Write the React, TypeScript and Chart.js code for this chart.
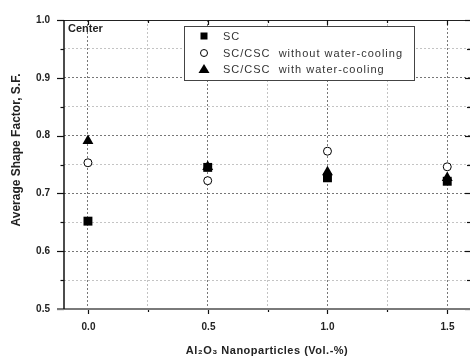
import React, { useEffect, useRef } from 'react';
import { Chart, registerables } from 'chart.js';
Chart.register(...registerables);

const xValues = [0.0, 0.5, 1.0, 1.5];
const scValues = [0.652, 0.745, 0.727, 0.721];
const withoutCoolingValues = [0.753, 0.722, 0.773, 0.746];
const withCoolingValues = [0.791, 0.746, 0.737, 0.727];
const seriesLabels = ['SC', 'SC/CSC  without water-cooling', 'SC/CSC  with water-cooling'];
const panelLabel = 'Center';
const yTitle = 'Average Shape Factor, S.F.';
const xTitle = 'Al\u2082O\u2083 Nanoparticles (Vol.-%)';

const FONT = '"Liberation Sans", Arial, sans-serif';

const isMult = (v: number, step: number) => Math.abs(v / step - Math.round(v / step)) < 1e-6;

const decorPlugin = {
  id: 'decor',
  afterDraw(chart: any) {
    const { ctx, chartArea } = chart;
    const { left, right, top, bottom } = chartArea;
    const xs = chart.scales.x;
    const ys = chart.scales.y;
    ctx.save();
    // top frame line
    ctx.strokeStyle = '#222';
    ctx.lineWidth = 1;
    ctx.beginPath();
    ctx.moveTo(left, top + 0.5);
    ctx.lineTo(right, top + 0.5);
    ctx.stroke();
    // y ticks (left outward, right inward)
    ctx.strokeStyle = '#111';
    ctx.lineWidth = 1.2;
    ys.ticks.forEach((t: any) => {
      const y = Math.round(ys.getPixelForValue(t.value)) + 0.5;
      const major = isMult(t.value, 0.1);
      const len = major ? 7 : 3.5;
      ctx.beginPath();
      ctx.moveTo(left - len, y);
      ctx.lineTo(left, y);
      ctx.stroke();
      const rl = major ? 5 : 3;
      ctx.beginPath();
      ctx.moveTo(right - rl, y);
      ctx.lineTo(right, y);
      ctx.stroke();
    });
    // x ticks (bottom outward, top inward) + labels
    ctx.fillStyle = '#222';
    ctx.font = `bold 10px ${FONT}`;
    ctx.textAlign = 'center';
    ctx.textBaseline = 'middle';
    xs.ticks.forEach((t: any) => {
      const x = Math.round(xs.getPixelForValue(t.value)) + 0.5;
      const major = isMult(t.value, 0.5);
      const len = major ? 5 : 3;
      ctx.beginPath();
      ctx.moveTo(x, bottom);
      ctx.lineTo(x, bottom + len);
      ctx.stroke();
      ctx.beginPath();
      ctx.moveTo(x, top);
      ctx.lineTo(x, top + len);
      ctx.stroke();
      if (major) ctx.fillText(Number(t.value).toFixed(1), x, 327);
    });
    // bottom axis
    ctx.strokeStyle = '#7a7a7a';
    ctx.lineWidth = 2;
    ctx.beginPath();
    ctx.moveTo(left - 7, bottom);
    ctx.lineTo(right, bottom);
    ctx.stroke();
    // left axis
    ctx.strokeStyle = '#111';
    ctx.lineWidth = 1.5;
    ctx.beginPath();
    ctx.moveTo(left, top);
    ctx.lineTo(left, bottom);
    ctx.stroke();

    // panel label
    ctx.fillStyle = '#222';
    ctx.font = `bold 11px ${FONT}`;
    ctx.textAlign = 'left';
    ctx.textBaseline = 'middle';
    ctx.fillText(panelLabel, left + 4, top + 9);

    // legend
    const bx = 184, by = 26, bw = 230, bh = 54;
    ctx.fillStyle = '#fff';
    ctx.fillRect(bx, by, bw, bh);
    ctx.strokeStyle = '#444';
    ctx.lineWidth = 1;
    ctx.strokeRect(bx + 0.5, by + 0.5, bw, bh);
    const rows = [36, 53, 69];
    const sx = 204;
    ctx.fillStyle = '#000';
    ctx.fillRect(sx - 3.5, rows[0] - 3.5, 7, 7);
    ctx.beginPath();
    ctx.arc(sx, rows[1], 3.5, 0, Math.PI * 2);
    ctx.fillStyle = '#fff';
    ctx.fill();
    ctx.strokeStyle = '#000';
    ctx.stroke();
    ctx.fillStyle = '#000';
    ctx.beginPath();
    ctx.moveTo(sx, rows[2] - 5);
    ctx.lineTo(sx + 5.5, rows[2] + 4);
    ctx.lineTo(sx - 5.5, rows[2] + 4);
    ctx.closePath();
    ctx.fill();
    ctx.font = `11px ${FONT}`;
    (ctx as any).letterSpacing = '1px';
    ctx.fillStyle = '#333';
    seriesLabels.forEach((s, i) => ctx.fillText(s, 223, rows[i] + 0.5));
    (ctx as any).letterSpacing = '0px';

    // axis titles
    ctx.fillStyle = '#222';
    ctx.font = `bold 12px ${FONT}`;
    ctx.textAlign = 'center';
    ctx.save();
    ctx.translate(17, 150);
    ctx.rotate(-Math.PI / 2);
    ctx.fillText(yTitle, 0, 0);
    ctx.restore();
    ctx.font = `bold 11px ${FONT}`;
    (ctx as any).letterSpacing = '0.5px';
    ctx.fillText(xTitle, (left + right) / 2, 351);
    (ctx as any).letterSpacing = '0px';
    ctx.restore();
  },
};

export default function App() {
  const ref = useRef<HTMLCanvasElement>(null);
  useEffect(() => {
    const mk = (vals: number[]) => xValues.map((x, i) => ({ x, y: vals[i] }));
    const chart = new Chart(ref.current!, {
      type: 'scatter',
      data: {
        datasets: [
          {
            label: seriesLabels[0],
            data: mk(scValues),
            pointStyle: 'rect',
            pointRadius: 6.3,
            backgroundColor: '#000',
            borderColor: '#000',
            borderWidth: 0,
            order: 2,
          },
          {
            label: seriesLabels[1],
            data: mk(withoutCoolingValues),
            pointStyle: 'circle',
            pointRadius: 4,
            backgroundColor: '#fff',
            borderColor: '#000',
            borderWidth: 1,
            order: 1,
          },
          {
            label: seriesLabels[2],
            data: mk(withCoolingValues),
            pointStyle: 'triangle',
            pointRadius: 6.3,
            backgroundColor: '#000',
            borderColor: '#000',
            borderWidth: 0,
            order: 0,
          },
        ],
      },
      options: {
        animation: false,
        responsive: false,
        events: [],
        layout: { autoPadding: false, padding: { top: 20, right: 0, left: 0, bottom: 0 } },
        plugins: { legend: { display: false }, tooltip: { enabled: false } },
        scales: {
          x: {
            type: 'linear',
            min: -0.1,
            max: 1.595,
            afterFit: (s: any) => { s.height = 49; s.paddingLeft = 0; s.paddingRight = 0; },
            ticks: {
              display: false,
              stepSize: 0.25,
              includeBounds: false,
              autoSkip: false,
              maxRotation: 0,
              padding: 0,
            },
            grid: {
              drawTicks: false,
              lineWidth: 1,
              color: (c: any) => (c.tick && isMult(c.tick.value, 0.5) ? '#777' : '#c4c4c4'),
            },
            border: { display: false, dash: [2, 2] },
          },
          y: {
            type: 'linear',
            min: 0.5,
            max: 1.0,
            afterFit: (s: any) => { s.width = 64; s.paddingTop = 0; s.paddingBottom = 0; },
            ticks: {
              stepSize: 0.05,
              autoSkip: false,
              padding: 14,
              color: '#222',
              font: { family: FONT, size: 10, weight: 'bold' },
              callback: (v: any) => (isMult(Number(v), 0.1) ? Number(v).toFixed(1) : ''),
            },
            grid: {
              drawTicks: false,
              lineWidth: 1,
              color: (c: any) => (c.tick && isMult(c.tick.value, 0.1) ? '#777' : '#c4c4c4'),
            },
            border: { display: false, dash: [2, 2] },
          },
        },
      },
      plugins: [decorPlugin],
    });
    return () => chart.destroy();
  }, []);
  return (
    <div style={{ position: 'fixed', left: 0, top: 0, width: 470, height: 358, background: '#fff' }}>
      <canvas ref={ref} width={470} height={358} />
    </div>
  );
}
